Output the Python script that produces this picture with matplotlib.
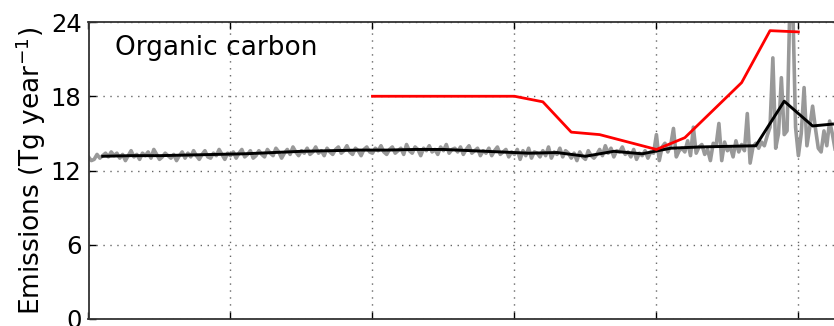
import numpy as np
import matplotlib
matplotlib.use("Agg")
import matplotlib.pyplot as plt

# Annual emissions (grey), 1750-2014
years_annual = list(range(1750, 2015))
annual = [
    13.1, 12.8, 12.9, 13.3, 13.0, 13.2, 13.4, 13.1, 13.5, 13.2,   # 1750s
    13.4, 13.0, 13.3, 12.8, 13.2, 13.6, 13.1, 13.3, 12.9, 13.4,   # 1760s
    13.2, 13.5, 13.0, 13.7, 13.3, 12.9, 13.1, 13.4, 13.2, 13.0,   # 1770s
    13.3, 12.8, 13.2, 13.5, 13.0, 13.4, 13.1, 13.6, 13.2, 12.9,   # 1780s
    13.3, 13.6, 13.1, 13.0, 13.4, 13.2, 13.7, 13.3, 12.9, 13.4,   # 1790s
    13.2, 13.5, 13.0, 13.4, 13.7, 13.1, 13.3, 13.6, 13.0, 13.2,   # 1800s
    13.6, 13.3, 13.1, 13.7, 13.4, 13.2, 13.8, 13.5, 13.0, 13.4,   # 1810s
    13.7, 13.3, 13.9, 13.5, 13.2, 13.6, 13.4, 13.8, 13.3, 13.5,   # 1820s
    13.9, 13.4, 13.6, 13.2, 13.8, 13.5, 13.3, 13.7, 13.9, 13.4,   # 1830s
    13.6, 14.0, 13.5, 13.3, 13.8, 13.6, 13.2, 13.7, 13.9, 13.5,   # 1840s
    13.4, 13.8, 13.6, 14.0, 13.5, 13.3, 13.7, 13.9, 13.4, 13.6,   # 1850s
    13.8, 13.3, 14.1, 13.6, 13.4, 13.9, 13.7, 13.2, 13.8, 13.6,   # 1860s
    14.0, 13.5, 13.7, 13.3, 13.9, 13.6, 14.1, 13.4, 13.7, 13.8,   # 1870s
    13.5, 13.9, 13.3, 13.7, 14.0, 13.4, 13.6, 13.8, 13.2, 13.6,   # 1880s
    13.4, 13.8, 13.2, 13.6, 13.9, 13.3, 13.5, 13.7, 13.1, 13.5,   # 1890s
    13.3, 13.7, 12.9, 13.6, 13.2, 13.8, 13.0, 13.5, 13.4, 13.1,   # 1900s
    13.6, 13.2, 13.9, 13.0, 13.5, 13.3, 13.8, 13.1, 13.6, 13.4,   # 1910s
    13.0, 13.4, 12.8, 13.5, 13.1, 12.9, 13.6, 13.2, 13.0, 13.3,   # 1920s
    13.7, 13.2, 14.0, 13.4, 13.8, 13.1, 13.6, 13.5, 13.9, 13.3,   # 1930s
    13.5, 13.1, 13.7, 12.9, 13.4, 13.2, 13.6, 13.0, 13.5, 13.4,   # 1940s
    14.9, 12.8, 13.9, 14.2, 13.5, 14.0, 15.4, 13.1, 13.6, 13.8,   # 1950s
    13.5, 14.4, 13.2, 15.5, 13.4, 13.9, 14.1, 13.3, 13.7, 12.8,   # 1960s
    14.2, 14.0, 15.8, 12.8, 14.3, 13.6, 13.9, 13.1, 14.4, 13.5,   # 1970s
    14.1, 13.6, 16.6, 12.6, 13.9, 14.2, 13.8, 14.3, 14.0, 14.8,   # 1980s
    15.5, 21.1, 13.8, 15.0, 19.5, 14.9, 15.2, 25.5, 25.5, 15.5,   # 1990s
    13.2, 15.0, 18.7, 14.0, 15.5, 17.2, 15.4, 13.8, 13.5, 15.2,   # 2000s
    14.0, 16.0, 14.9, 13.6, 15.5,                                 # 2010-2014
]

# Decadal means (black)
years_decadal = [1755, 1765, 1775, 1785, 1795, 1805, 1815, 1825, 1835, 1845,
                 1855, 1865, 1875, 1885, 1895, 1905, 1915, 1925, 1935, 1945,
                 1955, 1965, 1975, 1985, 1995, 2005, 2012]
decadal = [13.15, 13.2, 13.2, 13.25, 13.3, 13.35, 13.45, 13.55, 13.6, 13.65,
           13.65, 13.7, 13.7, 13.6, 13.5, 13.4, 13.45, 13.15, 13.55, 13.35,
           13.8, 13.9, 13.95, 14.0, 17.6, 15.6, 15.75]

# Previous inventory (red)
years_prev = [1850, 1900, 1910, 1920, 1930, 1950, 1960, 1980, 1990, 2000]
prev = [18.0, 18.0, 17.55, 15.1, 14.9, 13.7, 14.65, 19.1, 23.3, 23.2]

y_ticks = [0, 6, 12, 18, 24]
x_ticks = [1750, 1800, 1850, 1900, 1950, 2000]

fig = plt.figure(figsize=(8.34, 3.26), dpi=100)
ax = fig.add_axes([88.5 / 834, 7 / 326, (841 - 88.5) / 834, (319 - 22) / 326])

ax.plot(years_annual, annual, color="#999999", lw=2.6, zorder=2)
ax.plot(years_decadal, decadal, color="black", lw=2.1, zorder=3)
ax.plot(years_prev, prev, color="red", lw=2.0, zorder=4)

ax.set_xlim(1750, 2015)
ax.set_ylim(0, 24)
ax.set_yticks(y_ticks)
ax.set_xticks(x_ticks)
ax.tick_params(direction="in", top=True, right=True, labelsize=17.5, length=5,
               width=1, pad=5)
ax.tick_params(axis="x", labelbottom=False)
ax.grid(True, linestyle=(0, (1, 4)), color="0.4", lw=1.0)
for s in ax.spines.values():
    s.set_color("#333333")
    s.set_linewidth(1.3)

ax.set_ylabel("Emissions (Tg year$^{-1}$)", fontsize=19, labelpad=2)
ax.text(0.035, 0.955, "Organic carbon", transform=ax.transAxes, fontsize=19,
        va="top", ha="left")

fig.savefig("out.png", dpi=100)
